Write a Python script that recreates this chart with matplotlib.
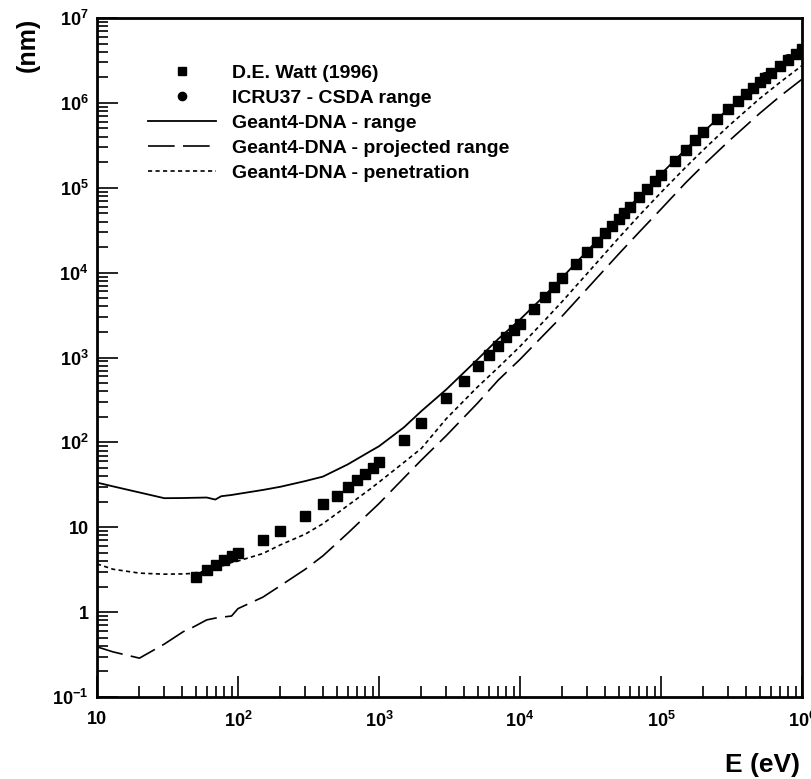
import matplotlib
matplotlib.use('Agg')
import matplotlib.pyplot as plt
from matplotlib.ticker import LogLocator, NullFormatter

# energies (eV) and ranges (nm)
watt_E = [50, 60, 70, 80, 90, 100, 150, 200, 300, 400, 500, 600, 700, 800, 900,
          1000, 1500, 2000, 3000, 4000, 5000, 6000, 7000, 8000, 9000, 10000,
          12500, 15000, 17500, 20000, 25000, 30000, 35000, 40000, 45000, 50000,
          55000, 60000, 70000, 80000, 90000, 100000, 125000, 150000, 175000,
          200000, 250000, 300000, 350000, 400000, 450000, 500000, 550000,
          600000, 700000, 800000, 900000, 1000000]
watt_nm = [2.6, 3.1, 3.6, 4.1, 4.6, 5.0, 7.0, 9.1, 13.4, 18.7, 23.6, 29.6, 36, 42, 50,
           58, 107, 168, 331, 530, 803, 1070, 1380, 1760, 2110, 2490,
           3700, 5150, 6750, 8600, 12700, 17700, 23000, 29000, 35800, 43000,
           51000, 59000, 77500, 97500, 119000, 142000, 208000, 281000, 362000,
           448000, 637000, 841000, 1.06e6, 1.28e6, 1.51e6, 1.75e6, 1.99e6,
           2.24e6, 2.74e6, 3.24e6, 3.75e6, 4.3e6]

icru_E = [10000, 12500, 15000, 17500, 20000, 25000, 30000, 35000, 40000, 45000,
          50000, 55000, 60000, 70000, 80000, 90000, 100000, 125000, 150000,
          175000, 200000, 250000, 300000, 350000, 400000, 450000, 500000,
          550000, 600000, 700000, 800000, 900000, 1000000]
icru_nm = [2515, 3728, 5147, 6762, 8573, 12760, 17610, 23110, 29220, 35910,
           43200, 51030, 59400, 77680, 97810, 119600, 143100, 208300, 281700,
           362200, 448800, 638000, 842100, 1.058e6, 1.282e6, 1.514e6, 1.751e6,
           1.993e6, 2.239e6, 2.738e6, 3.245e6, 3.756e6, 4.35e6]

g4_E = [10, 13, 20, 30, 41, 46, 60, 69, 76, 90, 100, 150, 200, 300, 400, 600,
        860, 1000, 1500, 2000, 3000, 5000, 7000, 1e4, 1.5e4, 2e4, 3e4, 5e4,
        7e4, 1e5, 1.5e5, 2e5, 3e5, 5e5, 7e5, 1e6]
g4_range = [33.6, 30.3, 25.7, 22, 22.1, 22.2, 22.4, 21.2, 23.2, 24, 24.7, 27.5,
            30, 35, 39.5, 55, 78, 90, 150, 234, 420, 950, 1650, 2800, 5400,
            8800, 18000, 44000, 79000, 145000, 285000, 455000, 850000,
            1.76e6, 2.75e6, 4.3e6]
g4_proj = [0.39, 0.34, 0.287, 0.42, 0.59, 0.64, 0.81, 0.85, 0.87, 0.90, 1.1,
           1.5, 2.05, 3.2, 4.6, 8.5, 15, 19, 38, 62, 120, 290, 540, 950, 1900,
           3100, 6500, 16500, 30000, 56000, 115000, 185000, 350000, 750000,
           1.2e6, 1.9e6]
g4_pen = [3.7, 3.2, 2.88, 2.8, 2.82, 2.85, 3.05, 3.3, 3.45, 3.85, 4.0, 4.9,
          6.2, 8.3, 11, 18, 28, 34, 58, 85, 190, 450, 760, 1350, 2750, 4600,
          9800, 25500, 47000, 88000, 175000, 280000, 530000, 1.12e6, 1.75e6,
          2.75e6]

plt.rcParams['font.family'] = 'Liberation Sans'
plt.rcParams['font.weight'] = 'bold'
plt.rcParams['mathtext.fontset'] = 'custom'
plt.rcParams['mathtext.rm'] = 'Liberation Sans:bold'
plt.rcParams['mathtext.default'] = 'rm'

fig = plt.figure(figsize=(8.12, 7.79), dpi=100)
ax = fig.add_axes([97 / 812, 1 - 697 / 779, 705 / 812, 679 / 779])

h_watt, = ax.plot(watt_E, watt_nm, 's', color='black', ms=7, zorder=3,
                  label='D.E. Watt (1996)')
h_icru, = ax.plot(icru_E, icru_nm, 'o', color='black', ms=7, zorder=4,
                  label='ICRU37 - CSDA range')
h_rng, = ax.plot(g4_E, g4_range, '-', color='black', lw=1.3, label='Geant4-DNA - range')
h_prj, = ax.plot(g4_E, g4_proj, color='black', lw=1.2, dashes=(16, 5),
                 label='Geant4-DNA - projected range')
h_pen, = ax.plot(g4_E, g4_pen, color='black', lw=1.2, dashes=(2.5, 2),
                 label='Geant4-DNA - penetration')

ax.set_xscale('log')
ax.set_yscale('log')
ax.set_xlim(10, 1e6)
ax.set_ylim(0.1, 1e7)

xt = [10, 1e2, 1e3, 1e4, 1e5, 1e6]
ax.set_xticks(xt)
ax.set_xticklabels(['10', '$10^{2}$', '$10^{3}$', '$10^{4}$', '$10^{5}$', '$10^{6}$'])
yt = [0.1, 1, 10, 1e2, 1e3, 1e4, 1e5, 1e6, 1e7]
ax.set_yticks(yt)
ax.set_yticklabels(['$10^{-1}$', '1', '10', '$10^{2}$', '$10^{3}$', '$10^{4}$',
                    '$10^{5}$', '$10^{6}$', '$10^{7}$'])
ax.xaxis.set_minor_locator(LogLocator(base=10, subs=range(2, 10), numticks=20))
ax.yaxis.set_minor_locator(LogLocator(base=10, subs=range(2, 10), numticks=20))
ax.xaxis.set_minor_formatter(NullFormatter())
ax.yaxis.set_minor_formatter(NullFormatter())
ax.tick_params(which='both', direction='in', top=False, right=False,
               labelsize=13, width=1.2)
ax.tick_params(which='major', length=15)
ax.tick_params(which='minor', length=8)
ax.tick_params(axis='x', pad=10)
ax.tick_params(axis='y', pad=6)
for s in ax.spines.values():
    s.set_linewidth(2)

fig.text(28 / 812, 1 - 45 / 779, '(nm)', rotation=90, fontsize=18,
         fontweight='bold', ha='center', va='center')
fig.text(800 / 812, 1 - 765 / 779, 'E (eV)', fontsize=19, fontweight='bold',
         ha='right', va='center')

ax.legend(handles=[h_watt, h_icru, h_rng, h_prj, h_pen], loc='upper left',
          bbox_to_anchor=((148 - 97) / 705, (697 - 64) / 679), frameon=False,
          fontsize=14, handlelength=3.5, handletextpad=0.8, labelspacing=0.38,
          borderpad=0, borderaxespad=0, markerscale=0.85)

fig.savefig('out.png', dpi=100)
